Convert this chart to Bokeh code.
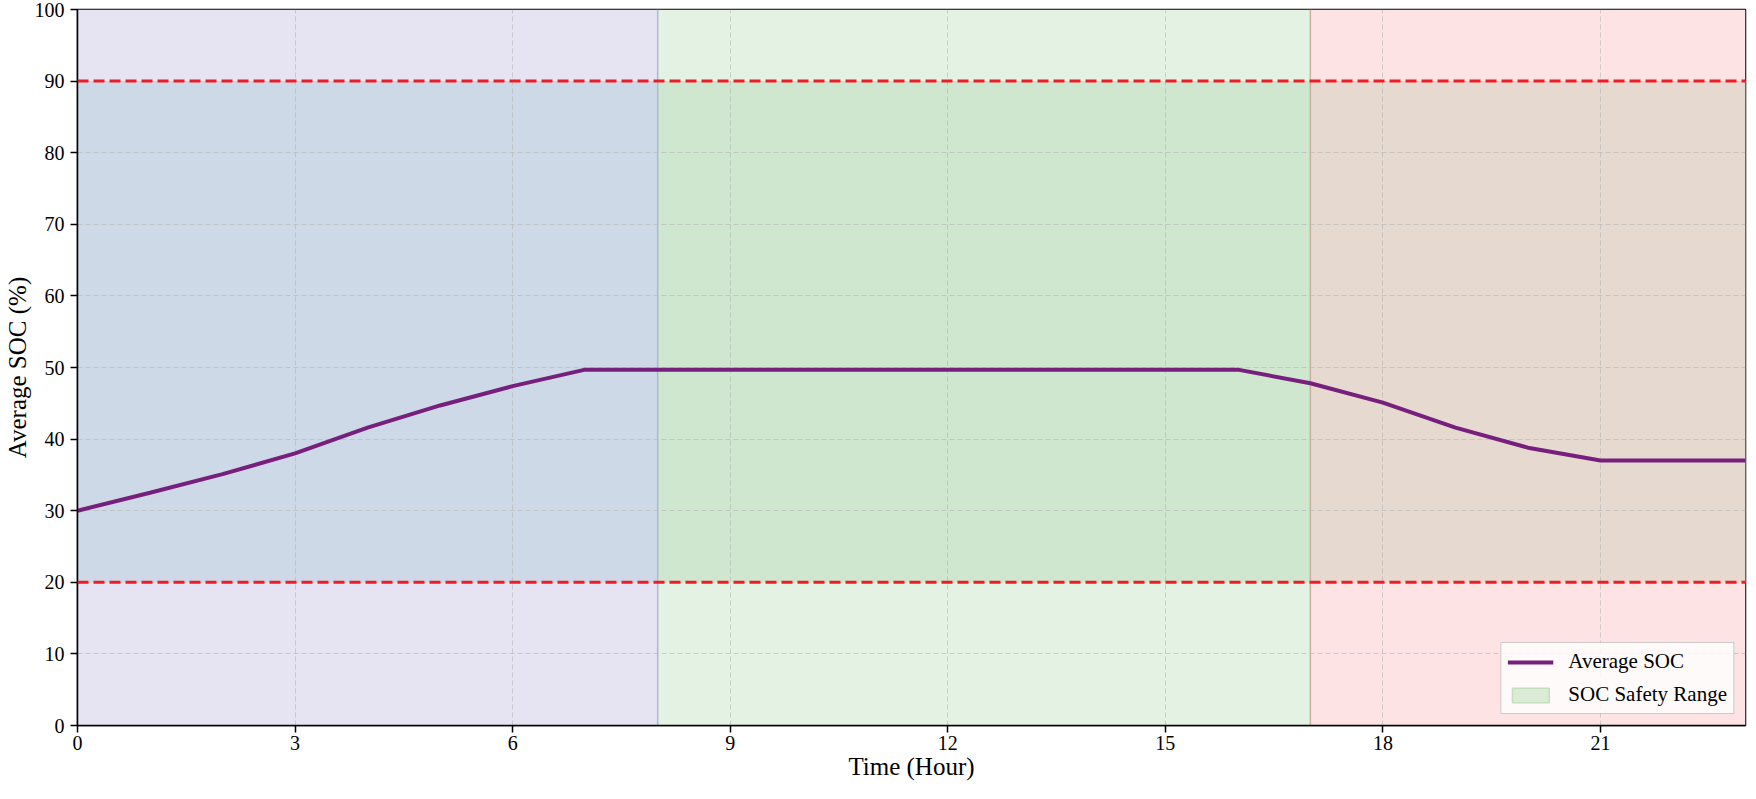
from bokeh.plotting import figure
from bokeh.models import Span, Legend, LegendItem, Range1d
from bokeh.embed import file_html
from bokeh.resources import INLINE

# ---- data ----
hours = list(range(24))
avg_soc = [30.0, 32.5, 35.1, 38.0, 41.6, 44.7, 47.4, 49.7,
           49.7, 49.7, 49.7, 49.7, 49.7, 49.7, 49.7, 49.7, 49.7,
           47.8, 45.1, 41.6, 38.8, 37.0, 37.0, 37.0]

period_start = [0, 8, 17]
period_end = [8, 17, 23]
period_color = ["#e6e3f2", "#e4f2e4", "#fde3e4"]
period_band_color = ["#cdd9e7", "#cfe6cf", "#e6d9cf"]
boundary_color = ["#aab9d4", "#cdae9f"]

safety_range = [20, 90]
y_limits = [0, 100]
x_limits = [0, 23]
x_ticks = [0, 3, 6, 9, 12, 15, 18, 21]
y_ticks = list(range(0, 101, 10))

FONT = "Liberation Serif"

p = figure(width=1748, height=783,
           x_range=Range1d(x_limits[0], x_limits[1]),
           y_range=Range1d(y_limits[0], y_limits[1]),
           output_backend="svg", toolbar_location=None,
           min_border_left=72, min_border_right=3,
           min_border_top=9, min_border_bottom=58)
p.background_fill_color = "white"

# legend-only patch for the safety range (degenerate, hidden beneath fills)
dummy = p.quad(left=[x_limits[0]], right=[x_limits[0]],
               bottom=[safety_range[0]], top=[safety_range[0]],
               fill_color="#dcebd6", line_color="#c4dec0", line_width=1.5,
               level="image")

# period backgrounds
p.quad(left=period_start, right=period_end,
       bottom=[y_limits[0]] * 3, top=[y_limits[1]] * 3,
       fill_color=period_color, line_color=None, level="image")
# safety band within each period
p.quad(left=period_start, right=period_end,
       bottom=[safety_range[0]] * 3, top=[safety_range[1]] * 3,
       fill_color=period_band_color, line_color=None, level="image")
# period boundaries
p.segment(x0=period_start[1:], y0=[y_limits[0]] * 2,
          x1=period_start[1:], y1=[y_limits[1]] * 2,
          line_color=boundary_color, line_width=1.5, level="image")

line_r = p.line(hours, avg_soc, line_color="#771f7c", line_width=4)

for v in safety_range:
    p.add_layout(Span(location=v, dimension="width", line_color="#ee1d25",
                      line_dash="11 5", line_width=3))

# axes
p.xaxis.ticker = x_ticks
p.yaxis.ticker = y_ticks
p.xaxis.axis_label = "Time (Hour)"
p.yaxis.axis_label = "Average SOC (%)"
for ax in (p.xaxis, p.yaxis):
    ax.axis_label_text_font = FONT
    ax.axis_label_text_font_style = "normal"
    ax.axis_label_text_font_size = "25px"
    ax.axis_label_text_color = "black"
    ax.major_label_text_font = FONT
    ax.major_label_text_font_size = "20px"
    ax.major_label_text_color = "black"
    ax.minor_tick_line_color = None
    ax.major_tick_in = 0
    ax.major_tick_out = 7
    ax.major_tick_line_width = 1.5
    ax.major_tick_line_color = "black"
    ax.axis_line_width = 1.5
    ax.axis_line_color = "black"
p.xaxis.major_label_standoff = 3
p.xaxis.axis_label_standoff = 0
p.yaxis.major_label_standoff = 6
p.yaxis.axis_label_standoff = 1

p.outline_line_color = "black"
p.outline_line_width = 1.5
p.outline_line_alpha = 1

p.grid.grid_line_color = "#b4b4b4"
p.grid.grid_line_alpha = 0.6
p.grid.grid_line_dash = "5 3"
p.grid.grid_line_width = 1

legend = Legend(items=[LegendItem(label="Average SOC", renderers=[line_r]),
                       LegendItem(label="SOC Safety Range", renderers=[dummy])],
                location="bottom_right")
legend.label_text_font = FONT
legend.label_text_font_size = "21px"
legend.label_text_color = "black"
legend.glyph_width = 46
legend.glyph_height = 18
legend.label_standoff = 15
legend.spacing = 8
legend.padding = 6
legend.margin = 11
legend.border_line_color = "#999999"
legend.border_line_width = 1.5
legend.background_fill_alpha = 0.8
p.add_layout(legend)

open("out.html", "w").write(file_html(p, INLINE))
